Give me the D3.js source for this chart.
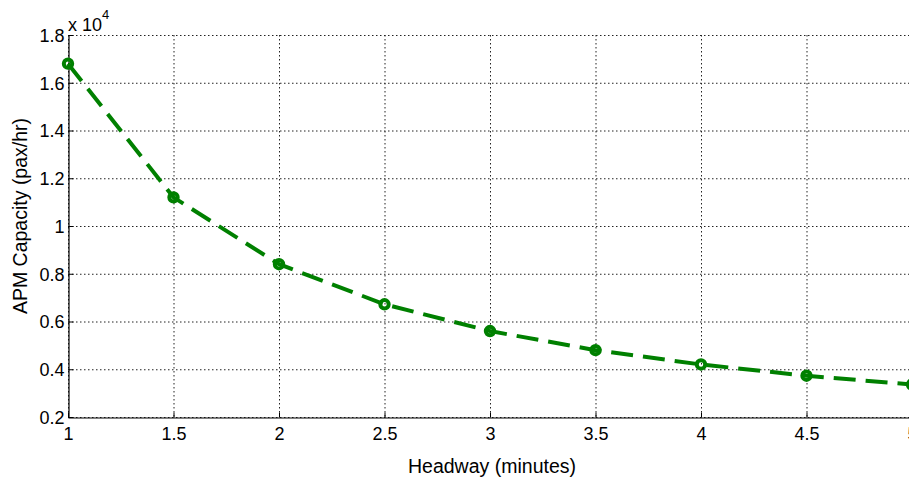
<!DOCTYPE html>
<html>
<head>
<meta charset="utf-8">
<script src="https://d3js.org/d3.v7.min.js"></script>
<style>
  body { margin: 0; background: #fff; overflow: hidden; }
  svg { display: block; font-family: "Liberation Sans", Arial, sans-serif; }
</style>
</head>
<body>
<svg id="chart" width="909" height="477"></svg>
<script>
// headway in minutes vs capacity (x 10^4 pax/hr)
const headway = [1, 1.5, 2, 2.5, 3, 3.5, 4, 4.5, 5];
const capacity = [1.68, 1.12, 0.84, 0.672, 0.56, 0.48, 0.42, 0.373, 0.336];
const xTicks = [1, 1.5, 2, 2.5, 3, 3.5, 4, 4.5, 5];
const yTicks = [0.2, 0.4, 0.6, 0.8, 1, 1.2, 1.4, 1.6, 1.8];

(function() {
    const svg = d3.select("#chart");

    const x = d3.scaleLinear().domain([1, 5]).range([68, 912]);
    const y = d3.scaleLinear().domain([0.2, 1.8]).range([417, 35]);

    const green = "#008000";

    // grid
    const grid = svg.append("g")
        .attr("stroke", "#222")
        .attr("stroke-width", 1)
        .attr("stroke-dasharray", "1.5,2.5");
    grid.selectAll(".gx")
        .data(xTicks)
        .join("line")
        .attr("x1", d => x(d) + 0.5).attr("x2", d => x(d) + 0.5)
        .attr("y1", y(1.8)).attr("y2", y(0.2));
    grid.selectAll(".gy")
        .data(yTicks)
        .join("line")
        .attr("x1", x(1)).attr("x2", x(5))
        .attr("y1", d => y(d) + 0.5).attr("y2", d => y(d) + 0.5);

    // axes (MATLAB style inward ticks)
    const xAxis = svg.append("g")
        .attr("transform", `translate(0,${y(0.2) + 0.5})`)
        .call(d3.axisBottom(x).tickValues(xTicks).tickSizeInner(-5).tickSizeOuter(0)
            .tickFormat(d3.format("")));
    const yAxis = svg.append("g")
        .attr("transform", `translate(${x(1) + 0.5},0)`)
        .call(d3.axisLeft(y).tickValues(yTicks).tickSizeInner(-5).tickSizeOuter(0)
            .tickFormat(d3.format("")));

    [xAxis, yAxis].forEach(a => {
        a.select(".domain").attr("stroke", "#000").attr("stroke-width", 1.2);
        a.selectAll(".tick line").attr("stroke", "#000");
        a.selectAll(".tick text")
            .attr("fill", "#000")
            .style("font-size", "18px")
            .style("font-family", "'Liberation Sans', Arial, sans-serif");
    });
    xAxis.selectAll(".tick text").attr("y", 4).attr("dy", "1em");
    yAxis.selectAll(".tick text").attr("x", -4).attr("dy", "0.35em");

    // exponent label
    const ex = svg.append("text")
        .attr("x", 68).attr("y", 31)
        .attr("font-size", 18)
        .attr("fill", "#000");
    ex.append("tspan").text("x 10");
    ex.append("tspan").attr("dy", -12).attr("font-size", 13).text("4");

    // axis labels
    svg.append("text")
        .attr("x", 492).attr("y", 473)
        .attr("text-anchor", "middle")
        .attr("font-size", 19.5)
        .attr("fill", "#000")
        .text("Headway (minutes)");
    svg.append("text")
        .attr("transform", "translate(27,216) rotate(-90)")
        .attr("text-anchor", "middle")
        .attr("font-size", 19.5)
        .attr("fill", "#000")
        .text("APM Capacity (pax/hr)");

    // series
    const pts = headway.map((h, i) => [h, capacity[i]]);
    svg.append("path")
        .datum(pts)
        .attr("d", d3.line().x(d => x(d[0])).y(d => y(d[1])))
        .attr("fill", "none")
        .attr("stroke", green)
        .attr("stroke-width", 4)
        .attr("stroke-dasharray", "22,10");

    svg.append("g")
        .selectAll("circle")
        .data(pts)
        .join("circle")
        .attr("cx", d => x(d[0]))
        .attr("cy", d => y(d[1]))
        .attr("r", 4.2)
        .attr("fill", "none")
        .attr("stroke", green)
        .attr("stroke-width", 4);
})();
</script>
</body>
</html>
